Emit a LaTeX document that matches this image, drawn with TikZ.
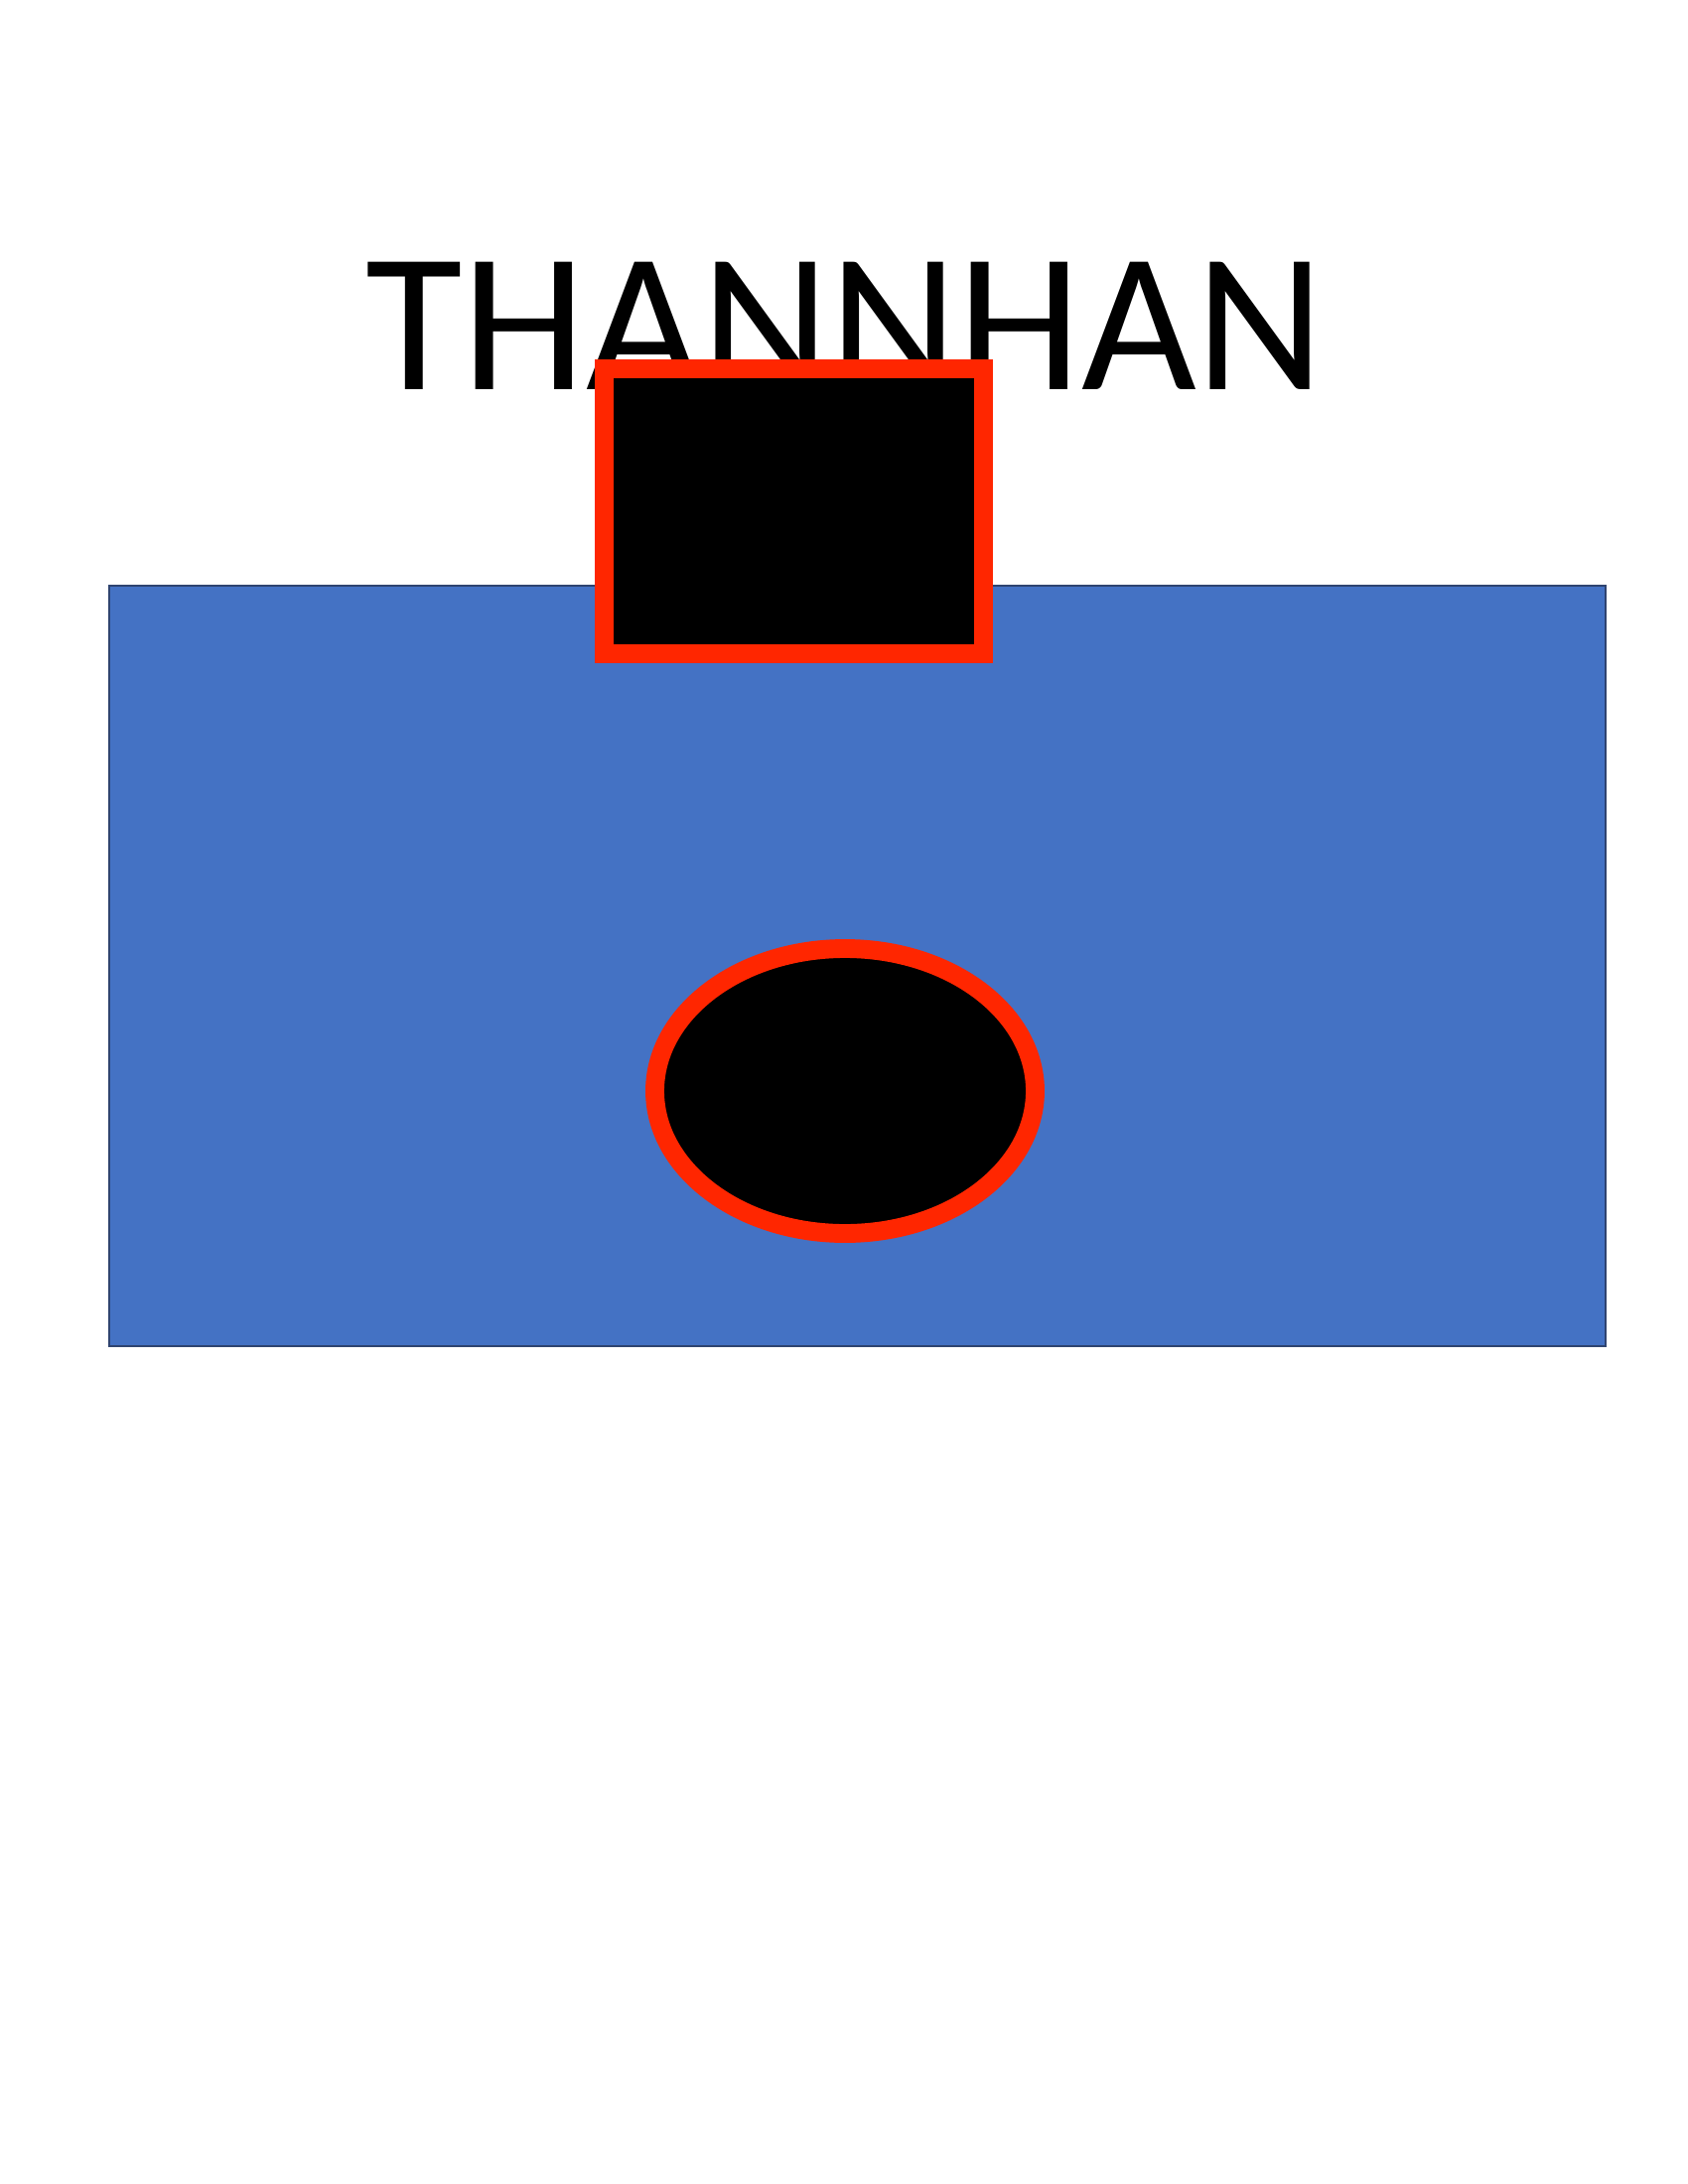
\documentclass[tikz,border=0pt]{standalone}
\usepackage{fontspec}
\setmainfont{Carlito}
\usepackage{xcolor}
\definecolor{panelblue}{HTML}{4472C4}
\definecolor{paneledge}{HTML}{2F4470}
\definecolor{rimred}{HTML}{FF2600}

\begin{document}
\begin{tikzpicture}[
  x=0.36pt, y=-0.36pt,
  panel/.style={fill=panelblue, draw=paneledge, line width=0.9pt},
  hole/.style={fill=black, draw=rimred, line width=6.8pt},
  title/.style={font=\fontsize{72}{80}\selectfont, inner sep=0pt, anchor=base}
]
  \useasboundingbox (0,0) rectangle (1700,2200);

  \node[title] (name) at (851,393) {THANNHAN};

  % body and the two openings
  \draw[panel] (110,590) rectangle (1617,1356);
  \draw[hole] (608.5,371.5) rectangle (990.5,658.5);
  \draw[hole] (851,1099) ellipse [x radius=191.5, y radius=143.5];
\end{tikzpicture}
\end{document}
